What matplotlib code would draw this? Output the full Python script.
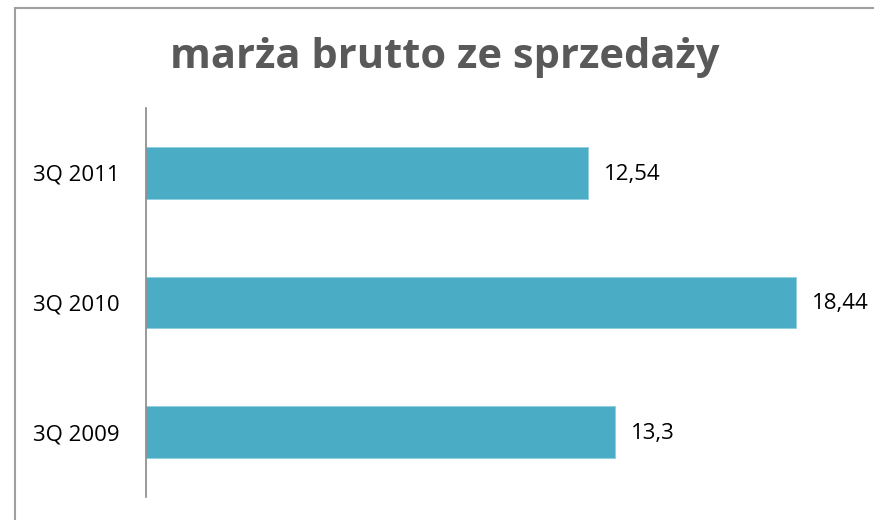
import matplotlib.pyplot as plt
from matplotlib.patches import Rectangle

categories = ["3Q 2009", "3Q 2010", "3Q 2011"]
values = [13.3, 18.44, 12.54]
value_labels = ["13,3", "18,44", "12,54"]

plt.rcParams['font.family'] = ['Open Sans', 'DejaVu Sans']

fig = plt.figure(figsize=(8.74, 5.2), dpi=100)
W, H = 874, 520

# outer chart border (cropped on right/bottom)
fig.patches.append(Rectangle((15 / W, -0.1), 1.2, 1 - 8 / H + 0.1,
                             transform=fig.transFigure, fill=False,
                             edgecolor="#a0a0a0", linewidth=1.5))

ax = fig.add_axes([146 / W, 1 - 497 / H, (851 - 146) / W, (497 - 108) / H])
pos = range(len(categories))
ax.barh(pos, values, height=0.4, color="#4BACC6", edgecolor="#8fcfe0", linewidth=0.6)
ax.set_xlim(0, 20)
ax.set_ylim(-0.5, 2.5)
ax.set_yticks(list(pos))
ax.set_yticklabels(categories, fontsize=16, color="black")
ax.tick_params(axis="y", length=0, pad=19)
ax.set_xticks([])
for s in ["top", "right", "bottom"]:
    ax.spines[s].set_visible(False)
ax.spines["left"].set_color("#888888")
ax.spines["left"].set_linewidth(1.2)

for p, v, lab in zip(pos, values, value_labels):
    ax.text(v + 0.45, p - 0.01, lab, va="center", ha="left", fontsize=16, color="black")

fig.text(445 / W, 1 - 58 / H, "marża brutto ze sprzedaży", ha="center", va="center",
         fontsize=30, fontweight="bold", color="#595959")

fig.savefig("out.png", dpi=100)
